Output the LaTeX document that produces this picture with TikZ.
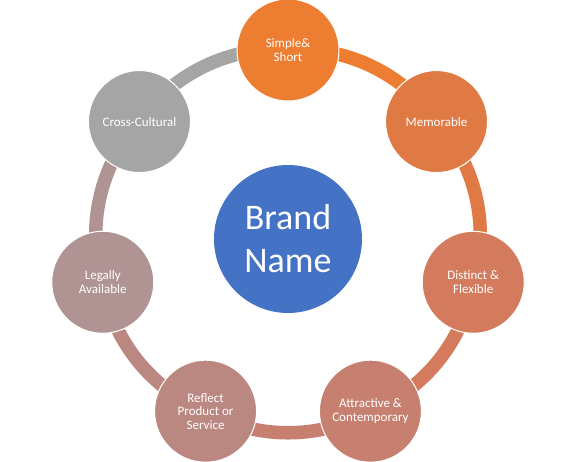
\documentclass[tikz,border=0pt]{standalone}
\usepackage{fontspec}
\setmainfont{Carlito}
\usetikzlibrary{backgrounds}
\definecolor{hubF}{HTML}{4472C4}
\definecolor{simpleF}{HTML}{ED7D31}
\definecolor{memoF}{HTML}{E07A45}
\definecolor{distF}{HTML}{D37B5C}
\definecolor{attrF}{HTML}{C7806F}
\definecolor{reflF}{HTML}{BB8781}
\definecolor{legalF}{HTML}{B09393}
\definecolor{crossF}{HTML}{A5A5A5}
\tikzset{
  spot/.style={circle, fill=#1, draw=white, line width=1pt, minimum size=102pt, inner sep=0pt,
               align=center, text=white, font=\fontsize{13}{13.5}\selectfont},
  hub/.style={circle, fill=hubF, minimum size=148pt, inner sep=0pt, align=center, text=white,
              font=\fontsize{36}{43}\selectfont},
  ring/.style={draw=#1, line width=13.5pt},
  arcto/.style={bend left, looseness=0.896},
}

\begin{document}
\begin{tikzpicture}[x=1pt, y=1pt]
\useasboundingbox (-288,-222) rectangle (288,240);
\node[hub] (brand) at (0,1) {Brand\\Name};
\node[spot=simpleF] (simple) at (90:190) {Simple\&\\Short};
\node[spot=memoF] (memo) at (38.57:190) {Memorable};
\node[spot=distF] (dist) at (-12.86:190) {Distinct \&\\Flexible};
\node[spot=attrF] (attr) at (-64.29:190) {Attractive \&\\Contemporary};
\node[spot=reflF] (refl) at (-115.71:190) {Reflect\\Product or\\Service};
\node[spot=legalF] (legal) at (-167.14:190) {Legally\\Available};
\node[spot=crossF] (cross) at (141.43:190) {Cross-Cultural};
% the ring, each piece in the colour of the circle it leaves
\begin{scope}[on background layer]
\draw[ring=simpleF] (simple.center) to[arcto] (memo.center);
\draw[ring=memoF] (memo.center) to[arcto] (dist.center);
\draw[ring=distF] (dist.center) to[arcto] (attr.center);
\draw[ring=attrF] (attr.center) to[arcto] (refl.center);
\draw[ring=reflF] (refl.center) to[arcto] (legal.center);
\draw[ring=legalF] (legal.center) to[arcto] (cross.center);
\draw[ring=crossF] (cross.center) to[arcto] (simple.center);
\end{scope}
\end{tikzpicture}
\end{document}
